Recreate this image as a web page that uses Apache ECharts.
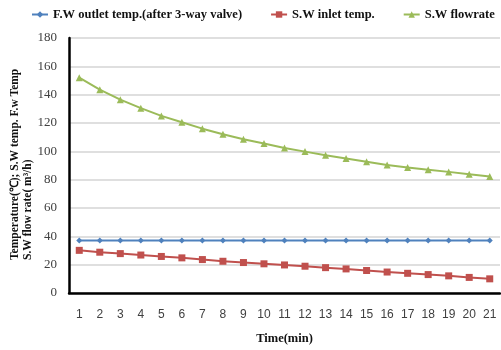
<!DOCTYPE html>
<html>
<head>
<meta charset="utf-8">
<script src="https://cdn.jsdelivr.net/npm/echarts@6/dist/echarts.min.js"></script>
<style>html,body{margin:0;padding:0;background:#fff}#c{width:501px;height:350px}</style>
</head>
<body>
<div id="c"></div>
<script>
var categories = ['1','2','3','4','5','6','7','8','9','10','11','12','13','14','15','16','17','18','19','20','21'];
var fwOutlet = [37,37,37,37,37,37,37,37,37,37,37,37,37,37,37,37,37,37,37,37,37];
var swInlet = [30.1,28.8,27.8,26.8,25.8,24.8,23.6,22.4,21.5,20.6,19.8,18.9,17.9,17.0,15.9,14.8,13.9,13.0,12.1,11.0,10.0];
var swFlow = [152,143.5,136.5,130.5,125,120.5,116,112,108.5,105.5,102.3,99.8,97.2,94.9,92.6,90.4,88.6,87.0,85.5,83.8,82.2];
var yTicks = {min:0, max:180, interval:20};
var seriesNames = ['F.W outlet temp.(after 3-way valve)','S.W inlet temp.','S.W flowrate'];
var yName1 = 'Temperature(℃); S.W temp. F.w Temp';
var yName2 = 'S.W flow rate( m³/h)';
var xName = 'Time(min)';

var chart = echarts.init(document.getElementById('c'), null, {renderer:'canvas'});
var serif = '"Liberation Serif","Times New Roman",serif';
chart.setOption({
  animation:false,
  backgroundColor:'#fff',
  legend:{
    top:8, left:31, padding:0, itemGap:28, itemWidth:16, itemHeight:8,
    textStyle:{fontFamily:serif, fontWeight:'bold', fontSize:12.5, color:'#111'},
    data:seriesNames
  },
  grid:{left:69, right:1, top:38, bottom:49},
  xAxis:{
    type:'category', data:categories, boundaryGap:true,
    name:xName, nameLocation:'middle', nameGap:39,
    nameTextStyle:{fontFamily:serif, fontWeight:'bold', fontSize:12.5, color:'#111'},
    axisLine:{lineStyle:{color:'#000', width:2.5}},
    axisTick:{show:false},
    axisLabel:{margin:16, fontFamily:'"Liberation Sans",Arial,sans-serif', fontSize:12, color:'#404040'}
  },
  yAxis:{
    type:'value', min:yTicks.min, max:yTicks.max, interval:yTicks.interval,
    axisLine:{show:true, lineStyle:{color:'#000', width:2.5}},
    axisTick:{show:false},
    axisLabel:{margin:12, fontFamily:serif, fontSize:13, color:'#404040'},
    splitLine:{lineStyle:{color:'#d4d4d4', width:1.5}}
  },
  graphic:[
    {type:'text', x:15, y:260, rotation:Math.PI/2,
     style:{text:yName1, font:'bold 11.5px "Liberation Serif",serif', fill:'#111', align:'left', verticalAlign:'middle'}},
    {type:'text', x:28, y:260, rotation:Math.PI/2,
     style:{text:yName2, font:'bold 11.5px "Liberation Serif",serif', fill:'#111', align:'left', verticalAlign:'middle'}}
  ],
  series:[
    {name:seriesNames[0], type:'line', data:fwOutlet, symbol:'diamond', symbolSize:6,
     itemStyle:{color:'#4F81BD'}, lineStyle:{color:'#4F81BD', width:2}},
    {name:seriesNames[1], type:'line', data:swInlet, symbol:'rect', symbolSize:7,
     itemStyle:{color:'#C0504D'}, lineStyle:{color:'#C0504D', width:2}},
    {name:seriesNames[2], type:'line', data:swFlow, symbol:'triangle', symbolSize:7,
     itemStyle:{color:'#9BBB59'}, lineStyle:{color:'#9BBB59', width:2}}
  ]
});
</script>
</body>
</html>
